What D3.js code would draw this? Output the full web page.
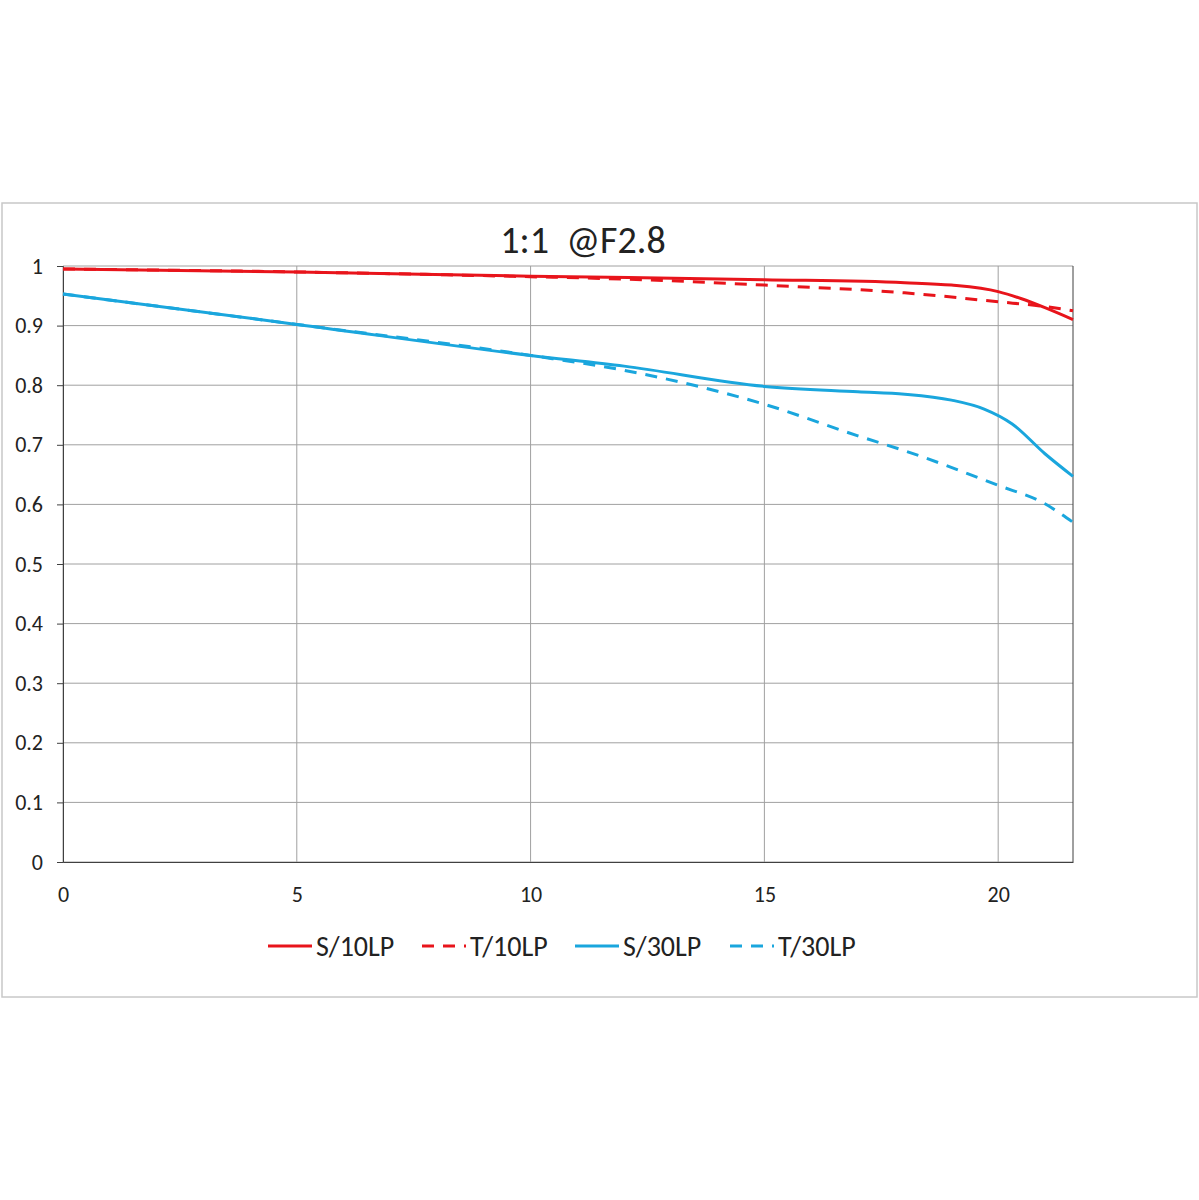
<!DOCTYPE html>
<html>
<head>
<meta charset="utf-8">
<script src="https://cdn.jsdelivr.net/npm/d3@7"></script>
<style>
  body { margin: 0; background: #fff; }
  text { font-family: Calibri, "Liberation Sans", Arial, sans-serif; }
</style>
</head>
<body>
<div id="chart"></div>
<script>
// field position (mm) vs MTF
const xS10 = [0, 5, 10, 15, 18, 19, 20, 20.5, 21, 21.6];
const yS10 = [0.995, 0.99, 0.983, 0.977, 0.972, 0.968, 0.957, 0.945, 0.93, 0.91];
const xT10 = [0, 5, 10, 12, 15, 18, 20, 21, 21.6];
const yT10 = [0.995, 0.99, 0.982, 0.978, 0.968, 0.955, 0.94, 0.932, 0.925];
const xS30 = [0, 5, 10, 12, 15, 17, 18, 19, 19.7, 20.3, 21, 21.6];
const yS30 = [0.953, 0.902, 0.85, 0.832, 0.798, 0.789, 0.785, 0.775, 0.76, 0.735, 0.685, 0.647];
const xT30 = [0, 5, 10, 12, 15, 17, 18, 20, 21, 21.6];
const yT30 = [0.953, 0.902, 0.85, 0.825, 0.768, 0.715, 0.69, 0.632, 0.601, 0.57];

const seriesNames = ["S/10LP", "T/10LP", "S/30LP", "T/30LP"];
const seriesColors = ["#e8141b", "#e8141b", "#1aa6dd", "#1aa6dd"];
const seriesDash = [null, "12,9", null, "12,9"];
const xTicks = [0, 5, 10, 15, 20];
const yTicks = [0, 0.1, 0.2, 0.3, 0.4, 0.5, 0.6, 0.7, 0.8, 0.9, 1];

const series = [[xS10, yS10], [xT10, yT10], [xS30, yS30], [xT30, yT30]]
    .map(([xs, ys], i) => ({ name: seriesNames[i], pts: xs.map((x, j) => [x, ys[j]]) }));

const svg = d3.select("#chart").append("svg").attr("width", 1199).attr("height", 1200);

// outer chart frame
svg.append("rect").attr("x", 2).attr("y", 203).attr("width", 1195).attr("height", 794)
    .attr("fill", "#fff").attr("stroke", "#c8c8c8").attr("stroke-width", 1.5);

const xScale = d3.scaleLinear().domain([0, 21.6]).range([63, 1073]);
const yScale = d3.scaleLinear().domain([0, 1]).range([862, 266]);

// gridlines
svg.append("g").selectAll("line").data(yTicks).join("line")
    .attr("x1", 63).attr("x2", 1073)
    .attr("y1", d => yScale(d)).attr("y2", d => yScale(d))
    .attr("stroke", "#a0a0a0").attr("stroke-width", 1);
svg.append("g").selectAll("line").data(xTicks.concat([21.6])).join("line")
    .attr("y1", 266).attr("y2", 862)
    .attr("x1", d => xScale(d)).attr("x2", d => xScale(d))
    .attr("stroke", d => d === 21.6 ? "#404040" : "#a0a0a0").attr("stroke-width", 1);

// axes
const xAxis = svg.append("g").attr("transform", "translate(0,862)")
    .call(d3.axisBottom(xScale).tickValues(xTicks).tickSize(0).tickPadding(24).tickFormat(d3.format("d")));
xAxis.select(".domain").attr("stroke", "#404040");
const yAxis = svg.append("g").attr("transform", "translate(63,0)")
    .call(d3.axisLeft(yScale).tickValues(yTicks).tickSize(6).tickPadding(14).tickFormat(d => d === 0 || d === 1 ? d : d3.format(".1f")(d)));
yAxis.select(".domain").attr("stroke", "#404040");
yAxis.selectAll(".tick line").attr("stroke", "#404040");
svg.selectAll(".tick text").attr("font-size", 22).attr("fill", "#222")
    .style("font-family", "Calibri, 'Liberation Sans', Arial, sans-serif");

// curves
const line = d3.line().x(d => xScale(d[0])).y(d => yScale(d[1])).curve(d3.curveMonotoneX);
svg.append("g").selectAll("path").data(series).join("path")
    .attr("d", d => line(d.pts))
    .attr("fill", "none")
    .attr("stroke", (d, i) => seriesColors[i])
    .attr("stroke-width", 3)
    .attr("stroke-dasharray", (d, i) => seriesDash[i]);

// title
svg.append("text").attr("x", 583).attr("y", 253).attr("text-anchor", "middle")
    .attr("font-size", 38).attr("fill", "#222").style("white-space", "pre").text("1:1  @F2.8");

// legend
const legendX = [268, 422, 575, 730];
const lg = svg.append("g").selectAll("g").data(seriesNames).join("g")
    .attr("transform", (d, i) => `translate(${legendX[i]},946)`);
lg.append("line").attr("x1", 0).attr("x2", 44)
    .attr("stroke", (d, i) => seriesColors[i]).attr("stroke-width", 3)
    .attr("stroke-dasharray", (d, i) => seriesDash[i]);
lg.append("text").attr("x", 48).attr("y", 10).attr("font-size", 28).attr("fill", "#222").text(d => d);
</script>
</body>
</html>
